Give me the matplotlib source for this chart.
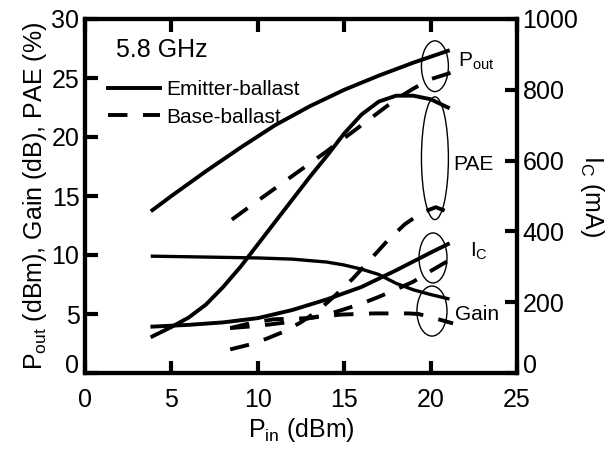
import numpy as np
import matplotlib
matplotlib.use("Agg")
import matplotlib.pyplot as plt
from matplotlib.patches import Ellipse
from matplotlib.transforms import ScaledTranslation

plt.rcParams['font.family'] = ['Liberation Sans', 'DejaVu Sans']
plt.rcParams['mathtext.fontset'] = 'custom'
plt.rcParams['mathtext.rm'] = 'Liberation Sans'
plt.rcParams['mathtext.it'] = 'Liberation Sans:italic'

# emitter-ballast (solid)
pin_pout_e = [3.9, 5, 7, 9, 11, 13, 15, 17, 19, 21]
pout_e = [13.8, 15.0, 17.1, 19.1, 21.0, 22.6, 24.0, 25.2, 26.3, 27.3]

pin_pae_e = [3.9, 5, 6, 7, 8, 9, 10, 11, 12, 13, 14, 15, 16, 17, 18, 19, 20, 21]
pae_e = [3.1, 3.9, 4.7, 5.8, 7.3, 9.0, 10.9, 12.8, 14.7, 16.6, 18.4, 20.3, 21.9, 23.0, 23.5, 23.5, 23.2, 22.5]

pin_gain_e = [3.9, 6, 8, 10, 12, 14, 15, 16, 17, 18, 19, 20, 21]
gain_e = [9.9, 9.85, 9.8, 9.75, 9.65, 9.4, 9.15, 8.8, 8.35, 7.6, 7.05, 6.65, 6.3]

pin_ic_e = [3.9, 6, 8, 10, 12, 14, 16, 18, 20, 21]
ic_e = [131, 136, 143, 155, 178, 208, 243, 290, 340, 364]

# base-ballast (dashed)
pin_pout_b = [8.5, 10, 12, 14, 16, 18, 19, 20, 21.3]
pout_b = [13.0, 14.6, 16.7, 18.8, 21.0, 23.2, 24.1, 24.9, 25.5]

pin_pae_b = [8.4, 9.5, 10.5, 11.5, 12.5, 13.5, 14.5, 15.5, 16.5, 17.5, 18.5, 19.5, 20.3, 21.1]
pae_b = [2.0, 2.4, 2.9, 3.5, 4.3, 5.3, 6.6, 8.0, 9.6, 11.2, 12.6, 13.6, 14.05, 13.6]

pin_gain_b = [8.4, 9.5, 10.9, 12.9, 14.8, 16.7, 18.7, 19.3, 20.1, 21.3]
gain_b = [3.8, 4.2, 4.55, 4.65, 4.95, 5.05, 5.05, 5.0, 4.7, 4.2]

pin_ic_b = [8.4, 10, 12, 14, 15, 16, 17, 18, 19, 20, 21.3]
ic_b = [127, 133, 145, 165, 180, 196, 215, 236, 258, 288, 325]

fig = plt.figure(figsize=(6.13, 4.55), dpi=100)
ax = fig.add_axes([85/613, 1-373/455, (517-85)/613, (373-19)/455])
ax2 = ax.twinx()

lw = 2.8
dash = (5, 4.0)
ax.plot(pin_pout_e, pout_e, color='k', lw=lw, label='Emitter-ballast')
ax.plot(pin_pae_e, pae_e, color='k', lw=lw)
ax.plot(pin_gain_e, gain_e, color='k', lw=2.4)
ax2.plot(pin_ic_e, ic_e, color='k', lw=lw)

ax.plot(pin_pout_b, pout_b, color='k', lw=lw, dashes=dash, label='Base-ballast')
ax.plot(pin_pae_b, pae_b, color='k', lw=lw, dashes=dash)
ax.plot(pin_gain_b, gain_b, color='k', lw=lw, dashes=dash)
ax2.plot(pin_ic_b, ic_b, color='k', lw=lw, dashes=dash)

# ellipses grouping the curves
for cx, cy, w, h in [(20.25, 26.0, 1.56, 4.3), (20.25, 18.2, 1.56, 10.4),
                     (20.14, 9.75, 1.62, 4.24), (20.08, 5.25, 1.74, 4.24)]:
    ax.add_patch(Ellipse((cx, cy), w, h, fill=False, lw=1.0, color='k'))

fs = 18
ax.text(21.6, 26.4, 'P$_{\\mathrm{out}}$', fontsize=15, va='center')
ax.text(21.3, 17.7, 'PAE', fontsize=15, va='center')
ax.text(22.3, 10.3, 'I$_{\\mathrm{C}}$', fontsize=15, va='center')
ax.text(21.4, 5.0, 'Gain', fontsize=15, va='center')
ax.text(1.8, 27.4, '5.8 GHz', fontsize=18, va='center')

ax.legend(loc='upper left', bbox_to_anchor=(0.053, 0.828), frameon=False,
          fontsize=15, handlelength=2.5, handletextpad=0.3, labelspacing=0.42,
          borderaxespad=0, borderpad=0)

ax.set_xlim(0, 25)
ax.set_ylim(0, 30)
ax2.set_ylim(0, 1000)
ax.set_xticks([0, 5, 10, 15, 20, 25])
ax.set_yticks([0, 5, 10, 15, 20, 25, 30])
ax2.set_yticks([0, 200, 400, 600, 800, 1000])

for s in ['left', 'right', 'top', 'bottom']:
    ax.spines[s].set_linewidth(3)
    ax2.spines[s].set_linewidth(3)
ax.tick_params(direction='in', length=9, width=3, labelsize=fs, pad=4, top=True)
ax.tick_params(axis='x', pad=11)
ax2.tick_params(direction='in', length=9, width=3, labelsize=fs, pad=4)

# the "0" labels sit a little above the bottom spine
shift = ScaledTranslation(0, 7/72, fig.dpi_scale_trans)
ax.get_yticklabels()[0].set_transform(ax.get_yticklabels()[0].get_transform() + shift)
ax2.get_yticklabels()[0].set_transform(ax2.get_yticklabels()[0].get_transform() + shift)

ax.set_xlabel('P$_{\\mathrm{in}}$ (dBm)', fontsize=fs, labelpad=3)
ax.set_ylabel('P$_{\\mathrm{out}}$ (dBm), Gain (dB), PAE (%)', fontsize=fs, labelpad=2)
ax2.set_ylabel('I$_{\\mathrm{C}}$ (mA)', fontsize=fs, rotation=270, labelpad=20)

fig.savefig('out.png', dpi=100)
